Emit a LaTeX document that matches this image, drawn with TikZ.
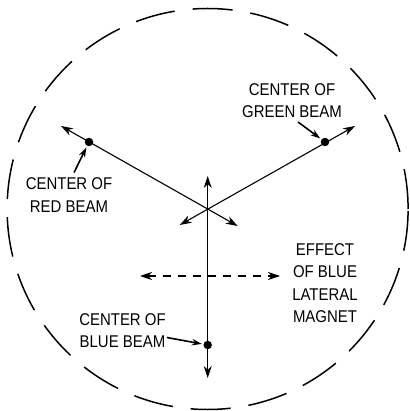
\documentclass[tikz,border=0pt]{standalone}
\usepackage{fontspec}
\setmainfont{Liberation Sans}
\newfontfamily\beamfont[FakeStretch=0.88]{Liberation Sans}
\usetikzlibrary{arrows.meta}

\begin{document}
\begin{tikzpicture}[
    x=1pt, y=-1pt,
    >={Stealth[length=12pt,width=8pt]},
    beamline/.style={line width=1.1pt},
    pointer/.style={line width=1.6pt, -{Stealth[length=10pt,width=6.5pt]}, shorten >=1.5pt},
    beamdot/.style={circle, fill=black, inner sep=0pt, minimum size=8.5pt},
    caption/.style={font=\beamfont\fontsize{17}{22.5}\selectfont, align=center, inner sep=0pt},
]
\useasboundingbox (0,0) rectangle (409,411);

% ===== screen edge =====
\draw[line width=1.5pt, dash pattern=on 40pt off 18pt] (207.6,209) circle (200.5pt);

% ===== beam paths =====
\coordinate (mid) at (207.7,209);
\coordinate (redtip) at (61,126);
\coordinate (redend) at (237.7,226);
\coordinate (greentip) at (355,126);
\coordinate (greenend) at (179.7,225);
\coordinate (bluetop) at (207.7,176);
\coordinate (bluebot) at (207.7,378);
\coordinate (latleft) at (140,276);
\coordinate (latright) at (280,276);

\draw[beamline, <->] (redtip) -- (redend);
\draw[beamline, <->] (greentip) -- (greenend);
\draw[beamline, <->] (bluetop) -- (bluebot);
\draw[beamline, <->, dash pattern=on 8pt off 7pt] (latleft) -- (latright);

\node[beamdot] (reddot) at (89,142) {};
\node[beamdot] (greendot) at (325,142) {};
\node[beamdot] (bluedot) at (207.7,345) {};

% ===== labels =====
\node[caption] (redlbl) at (69,195) {CENTER OF\\RED BEAM};
\node[caption] (greenlbl) at (292,100.5) {CENTER OF\\GREEN BEAM};
\node[caption] (effectlbl) at (325,283) {EFFECT\\OF BLUE\\LATERAL\\MAGNET};
\node[caption] (bluelbl) at (122.5,330.5) {CENTER OF\\BLUE BEAM};

\draw[pointer] ([xshift=5pt,yshift=5pt]redlbl.north) -- (reddot);
\draw[pointer] ([xshift=6pt,yshift=-4pt]greenlbl.south) -- (greendot);
\draw[pointer] ([xshift=1pt,yshift=-7pt]bluelbl.east) -- (bluedot);

\end{tikzpicture}
\end{document}
